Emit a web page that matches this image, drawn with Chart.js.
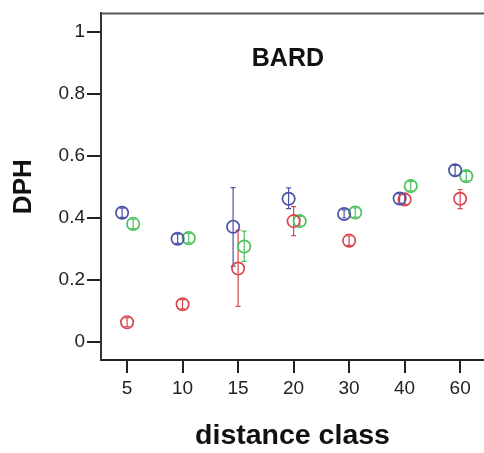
<!DOCTYPE html>
<html>
<head>
<meta charset="utf-8">
<script src="https://cdn.jsdelivr.net/npm/chart.js@4/dist/chart.umd.min.js"></script>
<style>
html,body{margin:0;padding:0;background:#fff;overflow:hidden;}
#wrap{width:484px;height:453px;}
</style>
</head>
<body>
<div id="wrap"><canvas id="c" width="484" height="453"></canvas></div>
<script>
// ---- data ----
const categories = ['5', '10', '15', '20', '30', '40', '60'];
const yTicks = [0, 0.2, 0.4, 0.6, 0.8, 1];
const panelTitle = 'BARD';

const blueMean  = [0.417, 0.333, 0.372, 0.462, 0.413, 0.463, 0.554];
const blueLow   = [0.402, 0.318, 0.245, 0.430, 0.400, 0.448, 0.538];
const blueHigh  = [0.432, 0.348, 0.498, 0.497, 0.426, 0.478, 0.570];

const redMean   = [0.064, 0.122, 0.237, 0.390, 0.327, 0.460, 0.462];
const redLow    = [0.050, 0.107, 0.115, 0.343, 0.312, 0.445, 0.430];
const redHigh   = [0.078, 0.137, 0.360, 0.437, 0.342, 0.475, 0.492];

const greenMean = [0.381, 0.335, 0.308, 0.390, 0.418, 0.503, 0.535];
const greenLow  = [0.366, 0.320, 0.260, 0.375, 0.403, 0.488, 0.520];
const greenHigh = [0.396, 0.350, 0.358, 0.405, 0.433, 0.518, 0.550];

const seriesDefs = [
  {name: 'blue',  color: '#4a52a8', mean: blueMean,  low: blueLow,  high: blueHigh,  shift: -0.09},
  {name: 'red',   color: '#d8464e', mean: redMean,   low: redLow,   high: redHigh,   shift: 0},
  {name: 'green', color: '#4cc25c', mean: greenMean, low: greenLow, high: greenHigh, shift: 0.11}
];

const datasets = seriesDefs.map(s => ({
  label: s.name,
  data: s.mean.map((v, i) => ({x: i + s.shift, y: v, lo: s.low[i], hi: s.high[i]})),
  showLine: false,
  pointStyle: 'circle',
  pointRadius: 6.2,
  pointHoverRadius: 6.2,
  borderWidth: 1.7,
  borderColor: s.color,
  backgroundColor: 'rgba(0,0,0,0)'
}));

const errorBars = {
  id: 'errorBars',
  beforeDatasetsDraw(chart) {
    const ctx = chart.ctx;
    const xs = chart.scales.x, ys = chart.scales.y;
    ctx.save();
    chart.data.datasets.forEach(ds => {
      ctx.strokeStyle = ds.borderColor;
      ctx.lineWidth = 1.2;
      ds.data.forEach(p => {
        const px = xs.getPixelForValue(p.x);
        const y1 = ys.getPixelForValue(p.lo), y2 = ys.getPixelForValue(p.hi);
        ctx.beginPath();
        ctx.moveTo(px, y1); ctx.lineTo(px, y2);
        ctx.moveTo(px - 2.5, y1); ctx.lineTo(px + 2.5, y1);
        ctx.moveTo(px - 2.5, y2); ctx.lineTo(px + 2.5, y2);
        ctx.stroke();
      });
    });
    ctx.restore();
  },
  afterDraw(chart) {
    const ctx = chart.ctx, a = chart.chartArea;
    ctx.save();
    ctx.strokeStyle = '#555';
    ctx.lineWidth = 2;
    ctx.beginPath();
    ctx.moveTo(a.left, a.top); ctx.lineTo(a.right, a.top);
    ctx.stroke();
    ctx.fillStyle = '#111';
    ctx.font = 'bold 25px "Liberation Sans", Arial, sans-serif';
    ctx.textAlign = 'center';
    ctx.textBaseline = 'middle';
    ctx.fillText(panelTitle, a.left + (a.right - a.left) * 0.488, a.top + 46);
    ctx.restore();
  }
};

new Chart(document.getElementById('c'), {
  type: 'scatter',
  data: {datasets},
  plugins: [errorBars],
  options: {
    responsive: false,
    animation: false,
    layout: {autoPadding: false, padding: {top: 11, right: 0, left: 0, bottom: 0}},
    plugins: {legend: {display: false}, tooltip: {enabled: false}, title: {display: false}},
    scales: {
      x: {
        type: 'linear',
        min: -0.47, max: 6.43,
        afterFit(s) { s.height = 93; },
        afterBuildTicks(s) { s.ticks = categories.map((c, i) => ({value: i})); },
        ticks: {
          callback: (v) => categories[Math.round(v)],
          color: '#222',
          font: {family: '"Liberation Sans", Arial, sans-serif', size: 19},
          padding: 4,
          maxRotation: 0,
          autoSkip: false
        },
        grid: {drawOnChartArea: false, drawTicks: true, tickLength: 13, color: '#222', lineWidth: 2},
        border: {display: true, color: '#222', width: 2},
        title: {
          display: true, text: 'distance class', color: '#111',
          font: {family: '"Liberation Sans", Arial, sans-serif', size: 28.5, weight: 'bold'},
          padding: {top: 0, bottom: 0}
        }
      },
      y: {
        type: 'linear',
        min: -0.058, max: 1.06,
        afterFit(s) { s.width = 101; },
        afterBuildTicks(s) { s.ticks = yTicks.map(v => ({value: v})); },
        ticks: {
          callback: (v) => String(v),
          color: '#222',
          font: {family: '"Liberation Sans", Arial, sans-serif', size: 19},
          padding: 2
        },
        grid: {drawOnChartArea: false, drawTicks: true, tickLength: 14, color: '#222', lineWidth: 2},
        border: {display: true, color: '#333', width: 2},
        title: {
          display: true, text: 'DPH', color: '#111',
          font: {family: '"Liberation Sans", Arial, sans-serif', size: 26, weight: 'bold'},
          padding: {top: 8, bottom: 0}
        }
      }
    }
  }
});
</script>
</body>
</html>
